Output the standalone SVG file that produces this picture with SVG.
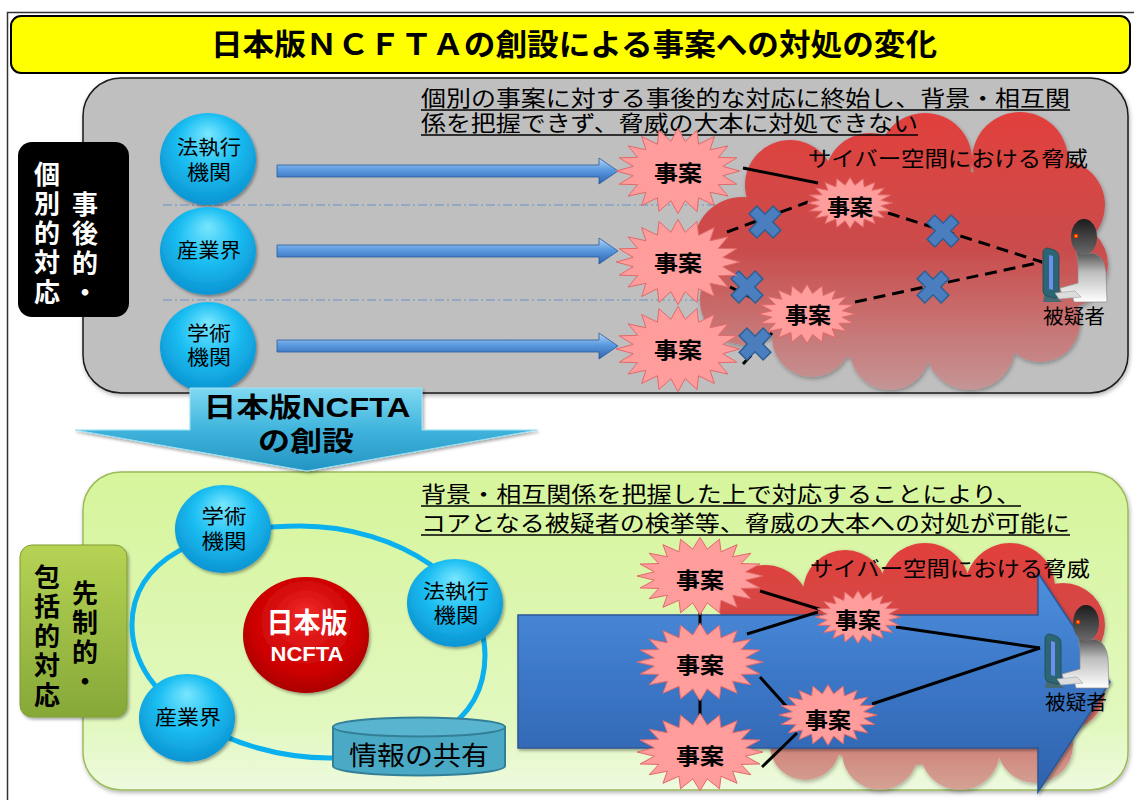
<svg xmlns="http://www.w3.org/2000/svg" xmlns:xlink="http://www.w3.org/1999/xlink" width="1134" height="800" viewBox="0 0 1134 800">
  <style>
    text { font-family: 'Liberation Sans', 'Noto Sans CJK JP', sans-serif; fill: #000; }
    .b { font-weight: bold; }
    .mid { text-anchor: middle; }
    .lbl { font-size: 20px; text-anchor: middle; }
    .case { font-size: 22px; font-weight: bold; text-anchor: middle; }
    .vt { font-family: 'Noto Sans CJK JP', sans-serif; font-size: 26px; font-weight: bold; writing-mode: vertical-rl; letter-spacing: 3.5px; }
    .white { fill: #fff; }
    .solid { stroke: #000; stroke-width: 3; fill: none; }
    .dash { stroke: #000; stroke-width: 3; fill: none; stroke-dasharray: 12 7; }
    .sep { stroke: #6a8fc8; stroke-width: 1; stroke-dasharray: 9 3 2 3; fill: none; }
    .uline { stroke: #000; stroke-width: 1.6; }
    .ball { fill: url(#cyanBall); filter: url(#shadow); }
    .ring { fill: none; stroke: #0bb0ee; stroke-width: 5; }
  </style>
  <defs>
    <filter id="shadow" x="-20%" y="-20%" width="140%" height="140%">
      <feDropShadow dx="1.5" dy="2" stdDeviation="1.5" flood-color="#000" flood-opacity="0.35"/>
    </filter>
    <filter id="softShadow" x="-10%" y="-10%" width="120%" height="120%">
      <feDropShadow dx="1" dy="2" stdDeviation="2" flood-color="#000" flood-opacity="0.3"/>
    </filter>
    <radialGradient id="cyanBall" cx="50%" cy="42%" r="62%" fx="50%" fy="22%">
      <stop offset="0" stop-color="#78e6ff"/>
      <stop offset="0.5" stop-color="#1bbef2"/>
      <stop offset="1" stop-color="#0a90cf"/>
    </radialGradient>
    <radialGradient id="redBall" cx="50%" cy="45%" r="60%" fx="50%" fy="30%">
      <stop offset="0" stop-color="#f02a2a"/>
      <stop offset="0.7" stop-color="#cc0000"/>
      <stop offset="1" stop-color="#a00000"/>
    </radialGradient>
    <linearGradient id="cloudTop" gradientUnits="userSpaceOnUse" x1="0" y1="108" x2="0" y2="392">
      <stop offset="0" stop-color="#e2403c"/>
      <stop offset="0.5" stop-color="#ca4c4c"/>
      <stop offset="1" stop-color="#c59696"/>
    </linearGradient>
    <linearGradient id="cloudBot" gradientUnits="userSpaceOnUse" x1="0" y1="542" x2="0" y2="792">
      <stop offset="0" stop-color="#e2403c"/>
      <stop offset="0.5" stop-color="#ca4c4c"/>
      <stop offset="1" stop-color="#d4a496"/>
    </linearGradient>
    <linearGradient id="bigArrow" x1="0" y1="0" x2="0" y2="1">
      <stop offset="0" stop-color="#4e90dd"/>
      <stop offset="0.5" stop-color="#3b76c6"/>
      <stop offset="1" stop-color="#2f62ac"/>
    </linearGradient>
    <linearGradient id="hArrow" x1="0" y1="0" x2="0" y2="1">
      <stop offset="0" stop-color="#b8d5f5"/>
      <stop offset="0.45" stop-color="#5b9be0"/>
      <stop offset="1" stop-color="#2d62b0"/>
    </linearGradient>
    <linearGradient id="downArrow" x1="0" y1="0" x2="0" y2="1">
      <stop offset="0" stop-color="#80d9f2"/>
      <stop offset="0.5" stop-color="#40b4dc"/>
      <stop offset="1" stop-color="#2494c2"/>
    </linearGradient>
    <linearGradient id="greenPanel" x1="0" y1="0" x2="0" y2="1">
      <stop offset="0" stop-color="#d6f59b"/>
      <stop offset="0.8" stop-color="#e2f8c0"/>
      <stop offset="1" stop-color="#eefadf"/>
    </linearGradient>
    <linearGradient id="greenLabel" x1="0" y1="0" x2="0" y2="1">
      <stop offset="0" stop-color="#b6d354"/>
      <stop offset="1" stop-color="#86a838"/>
    </linearGradient>
    <linearGradient id="headGrad" x1="0" y1="0" x2="0" y2="1">
      <stop offset="0" stop-color="#1c1c1c"/>
      <stop offset="1" stop-color="#6a6a6a"/>
    </linearGradient>
    <linearGradient id="bodyGrad" x1="0" y1="0" x2="0" y2="1">
      <stop offset="0" stop-color="#3a3a3a"/>
      <stop offset="0.45" stop-color="#bdbdbd"/>
      <stop offset="1" stop-color="#ffffff"/>
    </linearGradient>

    <!-- starburst for incident nodes (rx 60, ry 44) -->
    <polygon id="burst" fill="#ff9c9c" stroke="#e06a6a" stroke-width="1" vector-effect="non-scaling-stroke"
      points="60,0 43.5,4.8 57.1,13.6 39.2,14.1 48.5,25.9 31.1,21.9 35.3,35.6 20,27.6 18.5,41.8 6.9,30.6 0,44 -6.9,30.6 -18.5,41.8 -20,27.6 -35.3,35.6 -31.1,21.9 -48.5,25.9 -39.2,14.1 -57.1,13.6 -43.5,4.8 -60,0 -43.5,-4.8 -57.1,-13.6 -39.2,-14.1 -48.5,-25.9 -31.1,-21.9 -35.3,-35.6 -20,-27.6 -18.5,-41.8 -6.9,-30.6 0,-44 6.9,-30.6 18.5,-41.8 20,-27.6 35.3,-35.6 31.1,-21.9 48.5,-25.9 39.2,-14.1 57.1,-13.6 43.5,-4.8"/>

    <!-- blocked-link cross -->
    <g id="xmark">
      <path transform="rotate(45)" d="M-5.5,-17 H5.5 V-5.5 H17 V5.5 H5.5 V17 H-5.5 V5.5 H-17 V-5.5 H-5.5 Z"
        fill="#4a7ebf" stroke="#2f5f95" stroke-width="1.5"/>
    </g>

    <!-- horizontal block arrow -->
    <path id="harrow" d="M0,-6 L322,-6 L322,-13 L341,0 L322,13 L322,6 L0,6 Z" fill="url(#hArrow)" stroke="#2a5a9a" stroke-width="0.8"/>

    <!-- suspect at a computer, origin at monitor top-left -->
    <g id="suspectFig">
      <path d="M4,44 L16,49 L21,54 L2,54 Z" fill="#466a72"/>
      <path d="M2,5 Q2,0 7,0 L13,2 Q18,4 18,9 L18,46 Q18,50 13,50 L6,48 Q2,47 2,43 Z" fill="#2c6573" stroke="#1f4a55" stroke-width="0.8"/>
      <path d="M8,7 L12,8 L12,42 L8,41 Z" fill="#6a8ff0"/>
      <path d="M35,0 Q42,8 52,5 Q63,8 65,24 L66,54 L33,54 L31,47 L21,47 L19,40 L37,35 L37,16 Z" fill="url(#bodyGrad)" stroke="#8a8a8a" stroke-width="0.7"/>
      <path d="M14,45 L34,43 L40,49 L18,51 Z" fill="#dcdcdc" stroke="#a0a0a0" stroke-width="0.6"/>
      <ellipse cx="43" cy="-11" rx="13" ry="18" fill="url(#headGrad)"/>
      <circle cx="35" cy="-12" r="2.3" fill="#ff3000"/>
      <circle cx="35" cy="-12" r="0.9" fill="#ffd000"/>
      <text x="33" y="76" class="lbl" textLength="62" lengthAdjust="spacingAndGlyphs">被疑者</text>
    </g>
  </defs>

  <rect width="1134" height="800" fill="#ffffff"/>
  <!-- page frame -->
  <rect x="7.5" y="12.5" width="1140" height="800" fill="none" stroke="#333" stroke-width="1.5"/>

  <!-- title -->
  <g id="title">
    <rect x="11" y="16" width="1119" height="57" rx="10" fill="#ffff00" stroke="#000" stroke-width="2"/>
    <text x="574" y="55" class="b mid" font-size="30" textLength="726" lengthAdjust="spacingAndGlyphs">日本版ＮＣＦＴＡの創設による事案への対処の変化</text>
  </g>

  <!-- ===== before: individual, after-the-fact response ===== -->
  <g id="panel-before">
    <rect x="83" y="78" width="1045" height="315" rx="38" fill="#bfbfbf" stroke="#1a1a1a" stroke-width="1.5" filter="url(#softShadow)"/>
    <line class="sep" x1="163" y1="205" x2="720" y2="205"/>
    <line class="sep" x1="163" y1="300" x2="720" y2="300"/>
  </g>

  <g id="label-before">
    <rect x="18" y="142" width="111" height="175" rx="14" fill="#000"/>
    <text class="vt white" x="85" y="191">事後的・</text>
    <text class="vt white" x="47" y="161">個別的対応</text>
  </g>

  <g id="cloud-before">
    <g fill="url(#cloudTop)" filter="url(#softShadow)">
      <circle cx="790" cy="185" r="45"/>
      <circle cx="870" cy="178" r="45"/>
      <circle cx="925" cy="160" r="47"/>
      <circle cx="1020" cy="160" r="48"/>
      <circle cx="1060" cy="205" r="45"/>
      <circle cx="1065" cy="265" r="43"/>
      <circle cx="1040" cy="322" r="40"/>
      <circle cx="970" cy="345" r="45"/>
      <circle cx="890" cy="350" r="40"/>
      <circle cx="812" cy="337" r="40"/>
      <circle cx="745" cy="300" r="45"/>
      <circle cx="742" cy="245" r="48"/>
      <ellipse cx="900" cy="262" rx="165" ry="100"/>
    </g>
    <text x="948" y="166" class="mid" font-size="21" textLength="280" lengthAdjust="spacingAndGlyphs">サイバー空間における脅威</text>
  </g>

  <!-- statement above the cloud -->
  <g id="note-before">
    <text font-size="22"><tspan x="421" y="106" textLength="649" lengthAdjust="spacingAndGlyphs">個別の事案に対する事後的な対応に終始し、背景・相互関</tspan><tspan x="421" y="131" textLength="497" lengthAdjust="spacingAndGlyphs">係を把握できず、脅威の大本に対処できない</tspan></text>
    <line class="uline" x1="421" y1="110" x2="1070" y2="110"/>
    <line class="uline" x1="421" y1="135" x2="918" y2="135"/>
  </g>

  <!-- ===== after: comprehensive, pre-emptive response ===== -->
  <g id="panel-after">
    <rect x="83" y="472" width="1045" height="318" rx="38" fill="url(#greenPanel)" stroke="#9bbb59" stroke-width="1.5" filter="url(#softShadow)"/>
    <text font-size="22"><tspan x="421" y="502" textLength="600" lengthAdjust="spacingAndGlyphs">背景・相互関係を把握した上で対応することにより、</tspan><tspan x="421" y="531" textLength="649" lengthAdjust="spacingAndGlyphs">コアとなる被疑者の検挙等、脅威の大本への対処が可能に</tspan></text>
    <line class="uline" x1="421" y1="506" x2="1021" y2="506"/>
    <line class="uline" x1="421" y1="535" x2="1070" y2="535"/>
  </g>

  <g id="label-after">
    <rect x="20" y="545" width="107" height="172" rx="12" fill="url(#greenLabel)" stroke="#7f9e33" stroke-width="1" filter="url(#shadow)"/>
    <text class="vt" x="85" y="580">先制的・</text>
    <text class="vt" x="47" y="564">包括的対応</text>
  </g>

  <g id="cloud-after">
    <g fill="url(#cloudBot)" filter="url(#softShadow)">
      <circle cx="765" cy="610" r="45"/>
      <circle cx="845" cy="592" r="42"/>
      <circle cx="925" cy="588" r="45"/>
      <circle cx="1010" cy="588" r="45"/>
      <circle cx="1063" cy="625" r="42"/>
      <circle cx="1065" cy="690" r="40"/>
      <circle cx="1035" cy="745" r="38"/>
      <circle cx="960" cy="750" r="40"/>
      <circle cx="880" cy="752" r="38"/>
      <circle cx="805" cy="745" r="35"/>
      <circle cx="752" cy="700" r="40"/>
      <ellipse cx="910" cy="670" rx="160" ry="95"/>
    </g>
  </g>

  <!-- broad blue arrow toward the suspect -->
  <g id="progress-arrow">
    <path d="M518,615 L1038,615 L1038,573 L1110,682 L1038,792 L1038,748 L518,748 Z" fill="url(#bigArrow)" stroke="#2b5797" stroke-width="1.5" filter="url(#shadow)"/>
  </g>
  <text x="950" y="576" class="mid" font-size="21" textLength="280" lengthAdjust="spacingAndGlyphs">サイバー空間における脅威</text>

  <!-- connectors -->
  <g id="connectors">
    <!-- organisations to incidents -->
    <use href="#harrow" x="277" y="171"/>
    <use href="#harrow" x="277" y="251"/>
    <use href="#harrow" x="277" y="346"/>
    <!-- links between incidents, before -->
    <line class="solid" x1="743" y1="168" x2="818" y2="183"/>
    <line class="dash" x1="727" y1="232" x2="808" y2="202"/>
    <line class="dash" x1="888" y1="213" x2="1042" y2="262"/>
    <line class="dash" x1="855" y1="302" x2="1042" y2="262"/>
    <line class="dash" x1="730" y1="287" x2="762" y2="303"/>
    <line class="dash" x1="743" y1="364" x2="772" y2="333"/>
    <use href="#xmark" x="765" y="222"/>
    <use href="#xmark" x="943" y="231"/>
    <use href="#xmark" x="933" y="287"/>
    <use href="#xmark" x="747" y="287"/>
    <use href="#xmark" x="755" y="344"/>
    <!-- information-sharing ring -->
    <path class="ring" d="M300,526 C400,526 485,585 485,655 C485,725 420,758 330,758 C230,758 132,700 132,625 C132,560 200,526 300,526 Z"/>
    <!-- links between incidents, after -->
    <line class="solid" x1="700" y1="610" x2="700" y2="627"/>
    <line class="solid" x1="700" y1="698" x2="700" y2="716"/>
    <line class="solid" x1="760" y1="591" x2="822" y2="610"/>
    <line class="solid" x1="747" y1="634" x2="818" y2="612"/>
    <line class="solid" x1="760" y1="677" x2="787" y2="707"/>
    <line class="solid" x1="762" y1="767" x2="797" y2="733"/>
    <line class="solid" x1="896" y1="627" x2="1040" y2="648"/>
    <line class="solid" x1="872" y1="704" x2="1040" y2="648"/>
  </g>

  <!-- organisations, before -->
  <g id="org-police-before">
    <ellipse class="ball" cx="208" cy="159" rx="48" ry="46"/>
    <text class="lbl"><tspan x="209" y="155" textLength="64" lengthAdjust="spacingAndGlyphs">法執行</tspan><tspan x="209" y="180" textLength="44" lengthAdjust="spacingAndGlyphs">機関</tspan></text>
  </g>
  <g id="org-industry-before">
    <ellipse class="ball" cx="208" cy="251" rx="48" ry="44"/>
    <text x="209" y="258" class="lbl" textLength="64" lengthAdjust="spacingAndGlyphs">産業界</text>
  </g>
  <g id="org-academia-before">
    <ellipse class="ball" cx="208" cy="347" rx="48" ry="45"/>
    <text class="lbl"><tspan x="209" y="341" textLength="44" lengthAdjust="spacingAndGlyphs">学術</tspan><tspan x="209" y="365" textLength="44" lengthAdjust="spacingAndGlyphs">機関</tspan></text>
  </g>

  <!-- incidents, before -->
  <g id="case-b1"><use href="#burst" transform="translate(678,171) scale(1.03,0.97)"/><text x="678" y="181" class="case" textLength="48" lengthAdjust="spacingAndGlyphs">事案</text></g>
  <g id="case-b2"><use href="#burst" transform="translate(678,262) scale(1.03,0.97)"/><text x="678" y="271" class="case" textLength="48" lengthAdjust="spacingAndGlyphs">事案</text></g>
  <g id="case-b3"><use href="#burst" transform="translate(678,349) scale(1.03,0.97)"/><text x="678" y="358" class="case" textLength="48" lengthAdjust="spacingAndGlyphs">事案</text></g>
  <g id="case-b4"><use href="#burst" transform="translate(850,203) scale(0.71,0.58)"/><text x="850" y="215" class="case" textLength="46" lengthAdjust="spacingAndGlyphs">事案</text></g>
  <g id="case-b5"><use href="#burst" transform="translate(807,314) scale(0.81,0.67)"/><text x="808" y="323" class="case" textLength="46" lengthAdjust="spacingAndGlyphs">事案</text></g>

  <g id="suspect-before"><use href="#suspectFig" x="1041" y="248"/></g>

  <!-- organisations, after -->
  <g id="org-academia-after">
    <ellipse class="ball" cx="223" cy="529" rx="48" ry="44"/>
    <text class="lbl"><tspan x="224" y="524" textLength="45" lengthAdjust="spacingAndGlyphs">学術</tspan><tspan x="224" y="549" textLength="45" lengthAdjust="spacingAndGlyphs">機関</tspan></text>
  </g>
  <g id="org-police-after">
    <ellipse class="ball" cx="455" cy="603" rx="48" ry="44"/>
    <text class="lbl"><tspan x="456" y="599" textLength="66" lengthAdjust="spacingAndGlyphs">法執行</tspan><tspan x="456" y="623" textLength="45" lengthAdjust="spacingAndGlyphs">機関</tspan></text>
  </g>
  <g id="org-industry-after">
    <ellipse class="ball" cx="187" cy="718" rx="48" ry="44"/>
    <text x="188" y="725" class="lbl" textLength="66" lengthAdjust="spacingAndGlyphs">産業界</text>
  </g>
  <g id="ncfta">
    <ellipse cx="306" cy="635" rx="63" ry="58" fill="url(#redBall)" filter="url(#shadow)"/>
    <text class="b mid white"><tspan x="307" y="633" font-size="28" textLength="81" lengthAdjust="spacingAndGlyphs">日本版</tspan><tspan x="307" y="661" font-size="21" textLength="73" lengthAdjust="spacingAndGlyphs">NCFTA</tspan></text>
  </g>
  <g id="info-sharing">
    <path d="M333,727 L333,766 A86,9.5 0 0 0 505,766 L505,727 Z" fill="#4aa9c4" stroke="#347f98" stroke-width="2"/>
    <ellipse cx="419" cy="727" rx="86" ry="9.5" fill="#58b4cf" stroke="#347f98" stroke-width="2"/>
    <text x="419" y="765" class="mid" font-size="26" textLength="140" lengthAdjust="spacingAndGlyphs">情報の共有</text>
  </g>

  <!-- incidents, after -->
  <g id="case-a1"><use href="#burst" transform="translate(700,576) scale(1.05,0.88)"/><text x="700" y="588" class="case" textLength="48" lengthAdjust="spacingAndGlyphs">事案</text></g>
  <g id="case-a2"><use href="#burst" transform="translate(700,662) scale(1.05,0.88)"/><text x="700" y="673" class="case" textLength="48" lengthAdjust="spacingAndGlyphs">事案</text></g>
  <g id="case-a3"><use href="#burst" transform="translate(700,752) scale(1.05,0.88)"/><text x="700" y="764" class="case" textLength="48" lengthAdjust="spacingAndGlyphs">事案</text></g>
  <g id="case-a4"><use href="#burst" transform="translate(858,617) scale(0.71,0.6)"/><text x="858" y="628" class="case" textLength="46" lengthAdjust="spacingAndGlyphs">事案</text></g>
  <g id="case-a5"><use href="#burst" transform="translate(828,715) scale(0.82,0.69)"/><text x="828" y="728" class="case" textLength="46" lengthAdjust="spacingAndGlyphs">事案</text></g>

  <g id="suspect-after"><use href="#suspectFig" x="1043" y="634"/></g>

  <!-- transition arrow: founding of the Japanese NCFTA -->
  <g id="founding-arrow">
    <path d="M190,388 L422,388 L422,430 L537,430 L307,471 L75,430 L190,430 Z" fill="url(#downArrow)" stroke="#9be3f7" stroke-width="1" filter="url(#shadow)"/>
    <text class="b mid" font-size="27"><tspan x="307" y="417" textLength="207" lengthAdjust="spacingAndGlyphs">日本版NCFTA</tspan><tspan x="306" y="451" textLength="96" lengthAdjust="spacingAndGlyphs">の創設</tspan></text>
  </g>
</svg>
